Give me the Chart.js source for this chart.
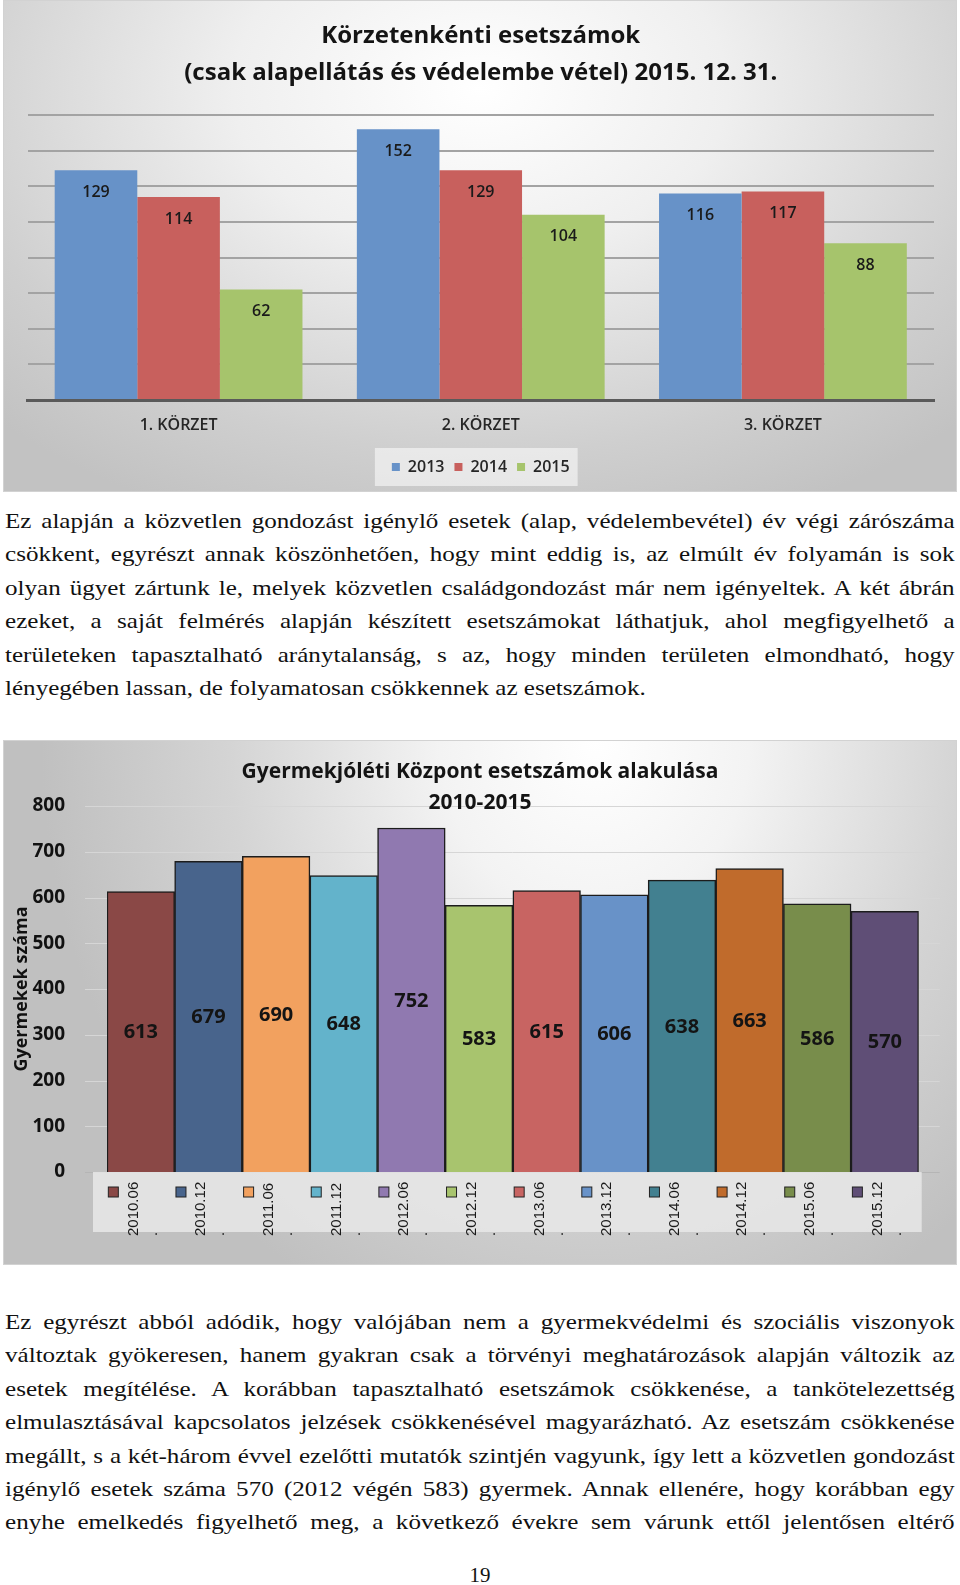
<!DOCTYPE html>
<html>
<head>
<meta charset="utf-8">
<script src="https://cdn.jsdelivr.net/npm/chart.js@4.4.0/dist/chart.umd.min.js"></script>
<style>
  body { margin: 0; background: #fff; width: 960px; height: 1585px; position: relative; overflow: hidden; }
  .chart-box { position: absolute; left: 3px; width: 954px; box-shadow: inset 0 0 0 1px #d2d2d2; }
  #topBox { top: 0; height: 492px;
    background: radial-gradient(ellipse 72% 95% at 50% 18%, #ffffff 0%, #efefef 36%, #cfcfcf 78%, #c2c2c2 100%); }
  #bottomBox { top: 740px; height: 525px;
    background: radial-gradient(ellipse 58% 120% at 62% 0%, #ffffff 0%, #f3f3f3 28%, #d4d4d4 66%, #c0c0c0 100%); }
  .para { position: absolute; left: 5px; width: 833px; transform: scaleX(1.14); transform-origin: 0 0;
    font-family: "Liberation Serif", serif; font-size: 22px; line-height: 33.4px; color: #111; }
  .para div { text-align: justify; text-align-last: justify; }
  .para div.last { text-align-last: left; }
  #pageNo { position: absolute; left: 0; width: 960px; top: 1563px; text-align: center;
    font-family: "Liberation Serif", serif; font-size: 21px; color: #111; }
</style>
</head>
<body>

<div id="topBox" class="chart-box"><canvas id="districtChart"></canvas></div>

<div class="para" style="top:504px">
  <div>Ez alapján a közvetlen gondozást igénylő esetek (alap, védelembevétel) év végi zárószáma</div>
  <div>csökkent, egyrészt annak köszönhetően, hogy mint eddig is, az elmúlt év folyamán is sok</div>
  <div>olyan ügyet zártunk le, melyek közvetlen családgondozást már nem igényeltek. A két ábrán</div>
  <div>ezeket, a saját felmérés alapján készített esetszámokat láthatjuk, ahol megfigyelhető a</div>
  <div>területeken tapasztalható aránytalanság, s az, hogy minden területen elmondható, hogy</div>
  <div class="last">lényegében lassan, de folyamatosan csökkennek az esetszámok.</div>
</div>

<div id="bottomBox" class="chart-box"><canvas id="trendChart"></canvas></div>

<div class="para" style="top:1305px">
  <div>Ez egyrészt abból adódik, hogy valójában nem a gyermekvédelmi és szociális viszonyok</div>
  <div>változtak gyökeresen, hanem gyakran csak a törvényi meghatározások alapján változik az</div>
  <div>esetek megítélése. A korábban tapasztalható esetszámok csökkenése, a tankötelezettség</div>
  <div>elmulasztásával kapcsolatos jelzések csökkenésével magyarázható. Az esetszám csökkenése</div>
  <div>megállt, s a két-három évvel ezelőtti mutatók szintjén vagyunk, így lett a közvetlen gondozást</div>
  <div>igénylő esetek száma 570 (2012 végén 583) gyermek. Annak ellenére, hogy korábban egy</div>
  <div>enyhe emelkedés figyelhető meg, a következő évekre sem várunk ettől jelentősen eltérő</div>
</div>

<div id="pageNo">19</div>

<script>
// top chart data
const districts = ["1. KÖRZET", "2. KÖRZET", "3. KÖRZET"];
const years = ["2013", "2014", "2015"];
const cases2013 = [129, 152, 116];
const cases2014 = [114, 129, 117];
const cases2015 = [62, 104, 88];

// bottom chart data
const periods = ["2010.06", "2010.12", "2011.06", "2011.12", "2012.06", "2012.12",
                 "2013.06", "2013.12", "2014.06", "2014.12", "2015.06", "2015.12"];
const childCounts = [613, 679, 690, 648, 752, 583, 615, 606, 638, 663, 586, 570];

const CAL = "'Open Sans', sans-serif";

// writes the value of each bar inside it
const valueLabels = {
    id: "valueLabels",
    afterDatasetsDraw(chart, args, opts) {
        const ctx = chart.ctx;
        ctx.save();
        ctx.font = opts.font;
        ctx.fillStyle = opts.color;
        ctx.textAlign = "center";
        ctx.textBaseline = "middle";
        chart.data.datasets.forEach((ds, i) => {
            chart.getDatasetMeta(i).data.forEach((bar, j) => {
                const y = opts.mode === "end" ? bar.y + opts.offset : (bar.y + bar.base) / 2 + opts.offset;
                ctx.fillText(ds.data[j], bar.x, y);
            });
        });
        ctx.restore();
    }
};

// light panel behind the legend
const legendPanel = {
    id: "legendPanel",
    beforeDraw(chart) {
        const lg = chart.legend;
        if (!lg || !lg.legendHitBoxes.length) return;
        const hb = lg.legendHitBoxes;
        const last = hb[hb.length - 1];
        const left = hb[0].left - 17;
        const right = last.left + last.width + 8;
        const cy = hb[0].top + hb[0].height / 2;
        const ctx = chart.ctx;
        ctx.save();
        ctx.fillStyle = "rgba(250,250,250,0.6)";
        ctx.fillRect(left, cy - 19, right - left, 38);
        ctx.restore();
    }
};

new Chart(document.getElementById("districtChart"), {
    type: "bar",
    data: {
        labels: districts,
        datasets: [
            { label: years[0], data: cases2013, backgroundColor: "#6792C8" },
            { label: years[1], data: cases2014, backgroundColor: "#C8605D" },
            { label: years[2], data: cases2015, backgroundColor: "#A6C46C" }
        ]
    },
    plugins: [valueLabels, legendPanel],
    options: {
        responsive: true,
        maintainAspectRatio: false,
        animation: false,
        categoryPercentage: 0.82,
        barPercentage: 1.0,
        layout: { padding: { left: 24.5, right: 23, top: 0, bottom: 7 } },
        scales: {
            x: {
                grid: { display: false, drawTicks: false },
                border: { display: true, color: "#5a5a5a", width: 3 },
                ticks: { color: "#262626", font: { family: CAL, size: 16, weight: "600" }, padding: 16 },
                afterFit: s => { s.height = 49; }
            },
            y: {
                min: 0,
                max: 160,
                ticks: { display: false, stepSize: 20 },
                grid: { color: "#a3a3a3", lineWidth: 2, drawTicks: false },
                border: { display: false },
                afterFit: s => { s.width = 0; }
            }
        },
        plugins: {
            title: {
                display: true,
                text: ["Körzetenkénti esetszámok", "(csak alapellátás és védelembe vétel) 2015. 12. 31."],
                color: "#141414",
                font: { family: CAL, size: 24, weight: "bold", lineHeight: 1.55 },
                padding: { top: 17.4, bottom: 23.2 }
            },
            legend: {
                position: "bottom",
                labels: {
                    boxWidth: 8,
                    boxHeight: 8,
                    padding: 10,
                    color: "#262626",
                    font: { family: CAL, size: 16, weight: "600" }
                }
            },
            tooltip: { enabled: false },
            valueLabels: { mode: "end", offset: 22, font: "600 16px " + CAL, color: "#1a1a1a" }
        }
    }
});

const trendColors = ["#8A4846", "#48648C", "#F2A15F", "#63B3CB", "#9079B0", "#A8C46E",
                     "#C86462", "#6892C8", "#428090", "#C06B2C", "#788D4B", "#5F4E76"];

// faint horizontal grid running a bit past the bars
const wideGrid = {
    id: "wideGrid",
    beforeDatasetsDraw(chart) {
        const { ctx, chartArea, scales: { y } } = chart;
        ctx.save();
        ctx.lineWidth = 1;
        y.ticks.forEach(t => {
            const py = Math.round(y.getPixelForValue(t.value)) + 0.5;
            ctx.strokeStyle = t.value === 0 ? "#b5b5b5" : "#d6d6d6";
            ctx.beginPath();
            ctx.moveTo(chartArea.left - 22, py);
            ctx.lineTo(chartArea.right + 21, py);
            ctx.stroke();
        });
        ctx.restore();
    }
};

// rotated period labels with colour keys, under each bar
const periodKeys = {
    id: "periodKeys",
    afterDraw(chart) {
        const { ctx, chartArea } = chart;
        const meta = chart.getDatasetMeta(0);
        const ds = chart.data.datasets[0];
        const top = chartArea.bottom;
        ctx.save();
        ctx.fillStyle = "rgba(232,232,232,0.85)";
        ctx.fillRect(chartArea.left - 14, top, chartArea.right - chartArea.left + 17, 60);
        meta.data.forEach((bar, j) => {
            const cx = bar.x;
            ctx.fillStyle = ds.backgroundColor[j];
            ctx.fillRect(cx - 32.5, top + 15, 10, 10);
            ctx.strokeStyle = "#222";
            ctx.lineWidth = 1;
            ctx.strokeRect(cx - 32.5, top + 15, 10, 10);
            ctx.save();
            ctx.translate(cx - 7.3, top + 64);
            ctx.rotate(-Math.PI / 2);
            ctx.fillStyle = "#1a1a1a";
            ctx.font = "15px 'Liberation Sans', sans-serif";
            ctx.textAlign = "left";
            ctx.textBaseline = "middle";
            ctx.fillText(chart.data.labels[j], 0, 0);
            ctx.fillText(".", 0, 19);
            ctx.restore();
        });
        ctx.restore();
    }
};

const overlayTitle = {
    id: "overlayTitle",
    afterDraw(chart, args, opts) {
        const ctx = chart.ctx;
        ctx.save();
        ctx.font = opts.font;
        ctx.fillStyle = opts.color;
        ctx.textAlign = "center";
        ctx.textBaseline = "middle";
        opts.lines.forEach((t, i) => ctx.fillText(t, chart.width / 2, opts.top + i * opts.lineHeight));
        ctx.restore();
    }
};

new Chart(document.getElementById("trendChart"), {
    type: "bar",
    data: {
        labels: periods,
        datasets: [{
            label: "Gyermekek száma",
            data: childCounts,
            backgroundColor: trendColors,
            borderColor: "#1c1c1c",
            borderWidth: 1.5
        }]
    },
    plugins: [wideGrid, valueLabels, periodKeys, overlayTitle],
    options: {
        responsive: true,
        maintainAspectRatio: false,
        animation: false,
        categoryPercentage: 1.0,
        barPercentage: 1.0,
        layout: { padding: { left: 0, right: 38.3, top: 66, bottom: 0 } },
        scales: {
            x: {
                ticks: { display: false },
                grid: { display: false, drawTicks: false },
                border: { display: false },
                afterFit: s => { s.height = 93; }
            },
            y: {
                min: 0,
                max: 800,
                ticks: { stepSize: 100, padding: 42, color: "#111", font: { family: CAL, size: 19, weight: "bold" } },
                grid: { display: false, drawTicks: false },
                border: { display: false },
                title: {
                    display: true,
                    text: "Gyermekek száma",
                    color: "#111",
                    font: { family: CAL, size: 18, weight: "bold" },
                    padding: { top: 8, bottom: 0 }
                },
                afterFit: s => { s.width = 104; }
            }
        },
        plugins: {
            legend: { display: false },
            tooltip: { enabled: false },
            valueLabels: { mode: "center", offset: 1, font: "bold 20px " + CAL, color: "#141414" },
            overlayTitle: {
                lines: ["Gyermekjóléti Központ esetszámok alakulása", "2010-2015"],
                top: 32,
                lineHeight: 30.6,
                font: "bold 21px " + CAL,
                color: "#141414"
            }
        }
    }
});
</script>
</body>
</html>
